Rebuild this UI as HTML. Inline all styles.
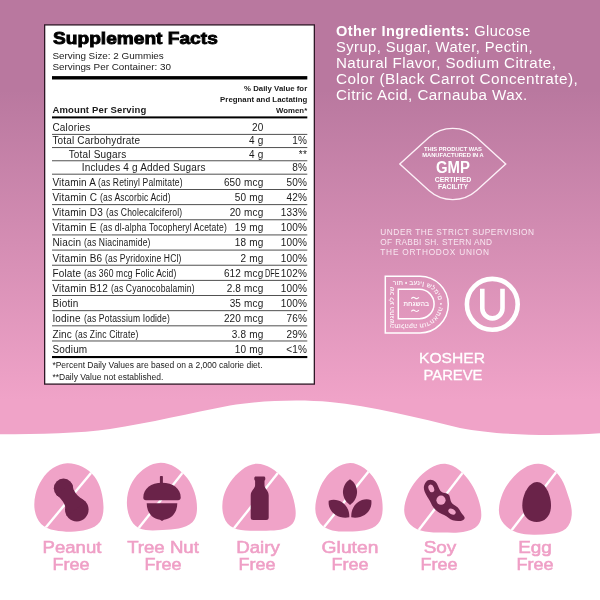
<!DOCTYPE html>
<html>
<head>
<meta charset="utf-8">
<title>Supplement Facts</title>
<style>
html,body{margin:0;padding:0;}
body{width:600px;height:600px;overflow:hidden;position:relative;background:#fff;font-family:"Liberation Sans",sans-serif;}
#bg{position:absolute;left:0;top:0;width:600px;height:445px;background:linear-gradient(to bottom,#b9789f 0px,#b9789f 90px,#f0a3c8 400px,#f0a3c8 445px);}
#wave{position:absolute;left:0;top:0;width:600px;height:600px;}
.t{position:absolute;white-space:nowrap;color:#1a1a1a;}
.c{display:inline-block;transform:scaleX(0.855);transform-origin:left center;}
.w{color:#fff;}
.w2{color:#f8e6f0;}
.lab{color:#ef9fc6;font-weight:normal;-webkit-text-stroke:0.55px #ef9fc6;}
</style>
</head>
<body>
<div id="root" style="position:absolute;left:0;top:0;width:600px;height:600px;will-change:transform;">
<div id="bg"></div>
<svg id="wave" viewBox="0 0 600 600">
<path d="M0,434.3 C40,434 80,433.5 110,429 C150,423 190,413 230,405.5 C260,400.5 300,399 330,402 C370,406 420,418 460,428 C500,436 560,436 600,433.3 L600,600 L0,600 Z" fill="#ffffff"/>
</svg>

<svg style="position:absolute;left:0;top:0" width="600" height="400" viewBox="0 0 600 400"><rect x="44.65" y="24.9" width="269.7" height="359.2" fill="#fff" stroke="#2e1726" stroke-width="1.3"/></svg>
<div class="t" style="left:52.6px;top:29.3px;font-size:16.3px;font-weight:bold;line-height:18.7px;color:#000;-webkit-text-stroke:0.85px #000;transform:scaleX(1.175);transform-origin:left top;">Supplement Facts</div>
<div class="t " style="left:52.4px;top:49.75px;font-size:9.9px;line-height:12px;letter-spacing:0px;">Serving Size: 2 Gummies</div>
<div class="t " style="left:52.4px;top:60.75px;font-size:9.9px;line-height:12px;letter-spacing:0px;">Servings Per Container: 30</div>
<div class="t " style="right:292.8px;top:83.75px;font-size:7.8px;line-height:10px;letter-spacing:0.02px;font-weight:bold;">% Daily Value for</div>
<div class="t " style="right:292.8px;top:94.75px;font-size:7.8px;line-height:10px;letter-spacing:0.02px;font-weight:bold;">Pregnant and Lactating</div>
<div class="t " style="right:292.8px;top:105.75px;font-size:7.8px;line-height:10px;letter-spacing:0.02px;font-weight:bold;">Women*</div>
<div class="t " style="left:52.4px;top:103.75px;font-size:9.5px;line-height:12px;letter-spacing:0.15px;font-weight:bold;">Amount Per Serving</div>
<div class="t " style="left:52.4px;top:359.75px;font-size:8.5px;line-height:11px;letter-spacing:0px;">*Percent Daily Values are based on a 2,000 calorie diet.</div>
<div class="t " style="left:52.4px;top:371.75px;font-size:8.5px;line-height:11px;letter-spacing:0px;">**Daily Value not established.</div>
<div class="t w" style="left:336.3px;top:22.75px;font-size:14px;line-height:17px;letter-spacing:0.4px;transform:scaleX(1.041);transform-origin:left center;"><b>Other Ingredients:</b> Glucose</div>
<div class="t w" style="left:336.3px;top:38.75px;font-size:14px;line-height:17px;letter-spacing:0.4px;transform:scaleX(1.056);transform-origin:left center;">Syrup, Sugar, Water, Pectin,</div>
<div class="t w" style="left:336.3px;top:54.75px;font-size:14px;line-height:17px;letter-spacing:0.4px;transform:scaleX(1.081);transform-origin:left center;">Natural Flavor, Sodium Citrate,</div>
<div class="t w" style="left:336.3px;top:70.75px;font-size:14px;line-height:17px;letter-spacing:0.4px;transform:scaleX(1.096);transform-origin:left center;">Color (Black Carrot Concentrate),</div>
<div class="t w" style="left:336.3px;top:86.75px;font-size:14px;line-height:17px;letter-spacing:0.4px;transform:scaleX(1.082);transform-origin:left center;">Citric Acid, Carnauba Wax.</div>
<div class="t w" style="left:453.00px;top:145.75px;font-size:5.6px;line-height:7px;letter-spacing:0px;transform:translateX(-50%) scaleX(1.03);font-weight:bold;">THIS PRODUCT WAS</div>
<div class="t w" style="left:453.20px;top:151.75px;font-size:5.6px;line-height:7px;letter-spacing:0px;transform:translateX(-50%) scaleX(1.03);font-weight:bold;">MANUFACTURED IN A</div>
<div class="t w" style="left:453.00px;top:158.75px;font-size:16px;line-height:18px;letter-spacing:0px;transform:translateX(-50%) scaleX(0.93);font-weight:bold;">GMP</div>
<div class="t w" style="left:452.70px;top:175.75px;font-size:7px;line-height:8px;letter-spacing:0px;transform:translateX(-50%) scaleX(0.99);font-weight:bold;">CERTIFIED</div>
<div class="t w" style="left:453.00px;top:182.75px;font-size:7px;line-height:8px;letter-spacing:0px;transform:translateX(-50%) scaleX(0.965);font-weight:bold;">FACILITY</div>
<div class="t w2" style="left:380.3px;top:226.75px;font-size:8.3px;line-height:11px;letter-spacing:0.54px;">UNDER THE STRICT SUPERVISION</div>
<div class="t w2" style="left:380.3px;top:236.75px;font-size:8.3px;line-height:11px;letter-spacing:0.34px;">OF RABBI SH. STERN AND</div>
<div class="t w2" style="left:380.3px;top:246.75px;font-size:8.3px;line-height:11px;letter-spacing:0.76px;">THE ORTHODOX UNION</div>
<div class="t w" style="left:452.30px;top:349.75px;font-size:14.4px;line-height:17px;letter-spacing:0px;transform:translateX(-50%) scaleX(1.085);-webkit-text-stroke:0.3px #fff;">KOSHER</div>
<div class="t w" style="left:452.80px;top:366.75px;font-size:14.4px;line-height:17px;letter-spacing:0px;transform:translateX(-50%) scaleX(1.03);-webkit-text-stroke:0.3px #fff;">PAREVE</div>
<div class="t lab" style="left:71.90px;top:537.75px;font-size:16.2px;line-height:19px;letter-spacing:0px;transform:translateX(-50%) scaleX(1.147);">Peanut</div>
<div class="t lab" style="left:71.00px;top:554.75px;font-size:16.2px;line-height:19px;letter-spacing:0px;transform:translateX(-50%) scaleX(1.113);">Free</div>
<div class="t lab" style="left:163.30px;top:537.75px;font-size:16.2px;line-height:19px;letter-spacing:0px;transform:translateX(-50%) scaleX(1.15);">Tree Nut</div>
<div class="t lab" style="left:163.30px;top:554.75px;font-size:16.2px;line-height:19px;letter-spacing:0px;transform:translateX(-50%) scaleX(1.113);">Free</div>
<div class="t lab" style="left:257.80px;top:537.75px;font-size:16.2px;line-height:19px;letter-spacing:0px;transform:translateX(-50%) scaleX(1.155);">Dairy</div>
<div class="t lab" style="left:256.60px;top:554.75px;font-size:16.2px;line-height:19px;letter-spacing:0px;transform:translateX(-50%) scaleX(1.113);">Free</div>
<div class="t lab" style="left:350.00px;top:537.75px;font-size:16.2px;line-height:19px;letter-spacing:0px;transform:translateX(-50%) scaleX(1.19);">Gluten</div>
<div class="t lab" style="left:349.80px;top:554.75px;font-size:16.2px;line-height:19px;letter-spacing:0px;transform:translateX(-50%) scaleX(1.113);">Free</div>
<div class="t lab" style="left:440.40px;top:537.75px;font-size:16.2px;line-height:19px;letter-spacing:0px;transform:translateX(-50%) scaleX(1.17);">Soy</div>
<div class="t lab" style="left:439.40px;top:554.75px;font-size:16.2px;line-height:19px;letter-spacing:0px;transform:translateX(-50%) scaleX(1.113);">Free</div>
<div class="t lab" style="left:535.00px;top:537.75px;font-size:16.2px;line-height:19px;letter-spacing:0px;transform:translateX(-50%) scaleX(1.17);">Egg</div>
<div class="t lab" style="left:535.00px;top:554.75px;font-size:16.2px;line-height:19px;letter-spacing:0px;transform:translateX(-50%) scaleX(1.113);">Free</div>
<div class="t " style="left:52.4px;top:121.75px;font-size:10.0px;line-height:12px;letter-spacing:0.18px;">Calories</div>
<div class="t " style="right:336.5px;top:121.75px;font-size:10.0px;line-height:12px;letter-spacing:0.18px;">20</div>
<div class="t " style="left:52.4px;top:134.75px;font-size:10.0px;line-height:12px;letter-spacing:0.18px;">Total Carbohydrate</div>
<div class="t " style="right:336.5px;top:134.75px;font-size:10.0px;line-height:12px;letter-spacing:0.18px;">4 g</div>
<div class="t " style="right:293px;top:134.75px;font-size:10.0px;line-height:12px;letter-spacing:0.18px;">1%</div>
<div class="t " style="left:68.7px;top:148.75px;font-size:10.0px;line-height:12px;letter-spacing:0.18px;">Total Sugars</div>
<div class="t " style="right:336.5px;top:148.75px;font-size:10.0px;line-height:12px;letter-spacing:0.18px;">4 g</div>
<div class="t " style="right:293px;top:148.75px;font-size:10.0px;line-height:12px;letter-spacing:0.18px;">**</div>
<div class="t " style="left:81.7px;top:161.75px;font-size:10.0px;line-height:12px;letter-spacing:0.18px;">Includes 4 g Added Sugars</div>
<div class="t " style="right:293px;top:161.75px;font-size:10.0px;line-height:12px;letter-spacing:0.18px;">8%</div>
<div class="t " style="left:52.4px;top:176.75px;font-size:10.0px;line-height:12px;letter-spacing:0.18px;">Vitamin A <span class="c">(as Retinyl Palmitate)</span></div>
<div class="t " style="right:336.5px;top:176.75px;font-size:10.0px;line-height:12px;letter-spacing:0.18px;">650 mcg</div>
<div class="t " style="right:293px;top:176.75px;font-size:10.0px;line-height:12px;letter-spacing:0.18px;">50%</div>
<div class="t " style="left:52.4px;top:191.75px;font-size:10.0px;line-height:12px;letter-spacing:0.18px;">Vitamin C <span class="c">(as Ascorbic Acid)</span></div>
<div class="t " style="right:336.5px;top:191.75px;font-size:10.0px;line-height:12px;letter-spacing:0.18px;">50 mg</div>
<div class="t " style="right:293px;top:191.75px;font-size:10.0px;line-height:12px;letter-spacing:0.18px;">42%</div>
<div class="t " style="left:52.4px;top:206.75px;font-size:10.0px;line-height:12px;letter-spacing:0.18px;">Vitamin D3 <span class="c">(as Cholecalciferol)</span></div>
<div class="t " style="right:336.5px;top:206.75px;font-size:10.0px;line-height:12px;letter-spacing:0.18px;">20 mcg</div>
<div class="t " style="right:293px;top:206.75px;font-size:10.0px;line-height:12px;letter-spacing:0.18px;">133%</div>
<div class="t " style="left:52.4px;top:221.75px;font-size:10.0px;line-height:12px;letter-spacing:0.18px;">Vitamin E <span class="c">(as dl-alpha Tocopheryl Acetate)</span></div>
<div class="t " style="right:336.5px;top:221.75px;font-size:10.0px;line-height:12px;letter-spacing:0.18px;">19 mg</div>
<div class="t " style="right:293px;top:221.75px;font-size:10.0px;line-height:12px;letter-spacing:0.18px;">100%</div>
<div class="t " style="left:52.4px;top:236.75px;font-size:10.0px;line-height:12px;letter-spacing:0.18px;">Niacin <span class="c">(as Niacinamide)</span></div>
<div class="t " style="right:336.5px;top:236.75px;font-size:10.0px;line-height:12px;letter-spacing:0.18px;">18 mg</div>
<div class="t " style="right:293px;top:236.75px;font-size:10.0px;line-height:12px;letter-spacing:0.18px;">100%</div>
<div class="t " style="left:52.4px;top:252.75px;font-size:10.0px;line-height:12px;letter-spacing:0.18px;">Vitamin B6 <span class="c">(as Pyridoxine HCl)</span></div>
<div class="t " style="right:336.5px;top:252.75px;font-size:10.0px;line-height:12px;letter-spacing:0.18px;">2 mg</div>
<div class="t " style="right:293px;top:252.75px;font-size:10.0px;line-height:12px;letter-spacing:0.18px;">100%</div>
<div class="t " style="left:52.4px;top:267.75px;font-size:10.0px;line-height:12px;letter-spacing:0.18px;">Folate <span class="c">(as 360 mcg Folic Acid)</span></div>
<div class="t " style="right:336.5px;top:267.75px;font-size:10.0px;line-height:12px;letter-spacing:0.18px;">612 mcg</div>
<div class="t " style="left:265.4px;top:267.75px;font-size:10.2px;line-height:12px;letter-spacing:0px;"><span class="c" style="transform:scaleX(0.72)">DFE</span></div>
<div class="t " style="right:293px;top:267.75px;font-size:10.0px;line-height:12px;letter-spacing:0.18px;">102%</div>
<div class="t " style="left:52.4px;top:282.75px;font-size:10.0px;line-height:12px;letter-spacing:0.18px;">Vitamin B12 <span class="c">(as Cyanocobalamin)</span></div>
<div class="t " style="right:336.5px;top:282.75px;font-size:10.0px;line-height:12px;letter-spacing:0.18px;">2.8 mcg</div>
<div class="t " style="right:293px;top:282.75px;font-size:10.0px;line-height:12px;letter-spacing:0.18px;">100%</div>
<div class="t " style="left:52.4px;top:297.75px;font-size:10.0px;line-height:12px;letter-spacing:0.18px;">Biotin</div>
<div class="t " style="right:336.5px;top:297.75px;font-size:10.0px;line-height:12px;letter-spacing:0.18px;">35 mcg</div>
<div class="t " style="right:293px;top:297.75px;font-size:10.0px;line-height:12px;letter-spacing:0.18px;">100%</div>
<div class="t " style="left:52.4px;top:312.75px;font-size:10.0px;line-height:12px;letter-spacing:0.18px;">Iodine <span class="c">(as Potassium Iodide)</span></div>
<div class="t " style="right:336.5px;top:312.75px;font-size:10.0px;line-height:12px;letter-spacing:0.18px;">220 mcg</div>
<div class="t " style="right:293px;top:312.75px;font-size:10.0px;line-height:12px;letter-spacing:0.18px;">76%</div>
<div class="t " style="left:52.4px;top:328.75px;font-size:10.0px;line-height:12px;letter-spacing:0.18px;">Zinc <span class="c">(as Zinc Citrate)</span></div>
<div class="t " style="right:336.5px;top:328.75px;font-size:10.0px;line-height:12px;letter-spacing:0.18px;">3.8 mg</div>
<div class="t " style="right:293px;top:328.75px;font-size:10.0px;line-height:12px;letter-spacing:0.18px;">29%</div>
<div class="t " style="left:52.4px;top:343.75px;font-size:10.0px;line-height:12px;letter-spacing:0.18px;">Sodium</div>
<div class="t " style="right:336.5px;top:343.75px;font-size:10.0px;line-height:12px;letter-spacing:0.18px;">10 mg</div>
<div class="t " style="right:293px;top:343.75px;font-size:10.0px;line-height:12px;letter-spacing:0.18px;">&lt;1%</div>
<svg style="position:absolute;left:0;top:0" width="600" height="400" viewBox="0 0 600 400"><rect x="52" y="133.90" width="255.3" height="0.95" fill="#484848"/><rect x="52" y="147.10" width="255.3" height="0.95" fill="#484848"/><rect x="52" y="160.30" width="255.3" height="0.95" fill="#484848"/><rect x="52" y="173.70" width="255.3" height="0.95" fill="#484848"/><rect x="52" y="189.00" width="255.3" height="0.95" fill="#484848"/><rect x="52" y="204.15" width="255.3" height="0.95" fill="#484848"/><rect x="52" y="219.30" width="255.3" height="0.95" fill="#484848"/><rect x="52" y="234.45" width="255.3" height="0.95" fill="#484848"/><rect x="52" y="249.60" width="255.3" height="0.95" fill="#484848"/><rect x="52" y="264.75" width="255.3" height="0.95" fill="#484848"/><rect x="52" y="279.90" width="255.3" height="0.95" fill="#484848"/><rect x="52" y="295.05" width="255.3" height="0.95" fill="#484848"/><rect x="52" y="310.20" width="255.3" height="0.95" fill="#484848"/><rect x="52" y="325.35" width="255.3" height="0.95" fill="#484848"/><rect x="52" y="340.50" width="255.3" height="0.95" fill="#484848"/><rect x="52" y="76.1" width="255.3" height="3.4" fill="#000"/><rect x="52" y="116.4" width="255.3" height="2.0" fill="#000"/><rect x="52" y="356" width="255.3" height="2.1" fill="#000"/></svg>

<!-- right column -->
<svg id="art" style="position:absolute;left:0;top:0" width="600" height="600" viewBox="0 0 600 600">
<!-- GMP badge -->
<path d="M399.8,164 L428.9,137.5 A35.8,35.8 0 0 1 476.6,137.5 L505.7,164 L476.6,190.5 A35.8,35.8 0 0 1 428.9,190.5 Z" fill="none" stroke="#fdf0f7" stroke-width="1.4" stroke-linejoin="miter"/>
<!-- Kosher D -->
<g fill="none" stroke="#ffffff" stroke-width="1.5">
<path d="M385.3,276.3 H420 A28.3,28.3 0 0 1 420,332.9 H385.3 Z"/>
<path d="M398.3,289.3 H419.4 A14.7,14.7 0 0 1 419.4,318.7 H398.3 Z"/>
</g>
<path id="dband" d="M394,329 V285.3 H419.7 A19.2,19.2 0 0 1 419.7,323.7 H396" fill="none"/>
<text font-family="Liberation Sans, sans-serif" font-size="6.3" font-weight="bold" fill="#ffffff" fill-opacity="0.85" letter-spacing="0.1" style="unicode-bidi:bidi-override;direction:ltr"><textPath href="#dband" startOffset="1">&#x5D4;&#x5E9;&#x5D2;&#x5D7;&#x5D4; &#x5E2;&#x5DC; &#x5DB;&#x5E9;&#x5E8;&#x5D5;&#x5EA; &#x2022; &#x5D1;&#x5E2;&#x5E0;&#x5D9;&#x5DF; &#x5E9;&#x5DC;&#x5DE;&#x5D9;&#x5DD; &#x2022; &#x5D4;&#x5EA;&#x5D0;&#x5D7;&#x5D3;&#x5D5;&#x5EA; &#x5D4;&#x5E7;&#x5D4;&#x5DC;&#x5D5;&#x5EA; &#x2022; &#x5D3;&#x5D0;&#x5E8;&#x5E6;&#x5D5;&#x5EA; &#x5D4;&#x5D1;&#x5E8;&#x5D9;&#x5EA;</textPath></text>
<text x="416.3" y="306.2" text-anchor="middle" font-family="Liberation Sans, sans-serif" font-size="6.4" font-weight="bold" fill="#ffffff" fill-opacity="0.95">&#x5D1;&#x5D4;&#x5E9;&#x5D2;&#x5D7;&#x5EA;</text>
<path d="M411.3,298.6 q1.9,-2.2 3.8,-0.6 t3.8,-0.6 M411.3,311.4 q1.9,-2.2 3.8,-0.6 t3.8,-0.6" fill="none" stroke="#fff" stroke-width="1.1" stroke-opacity="0.95"/>
<!-- OU -->
<circle cx="492.3" cy="304.3" r="25.4" fill="none" stroke="#ffffff" stroke-width="4.6"/>
<path d="M482.3,288.7 V308.3 A10.1,10.1 0 0 0 502.5,308.3 V288.7" fill="none" stroke="#ffffff" stroke-width="4.6"/>
<defs><clipPath id="cp_peanut"><path d="M67.1,463.2 C72.1,463.0 77.5,464.3 82.3,466.8 C87.2,469.2 91.4,472.7 94.6,476.8 C97.7,481.0 99.8,485.8 101.2,490.9 C102.6,496.1 103.4,501.8 103.5,507.3 C103.5,512.8 102.6,518.1 99.9,522.0 C97.2,525.8 92.4,528.2 87.2,529.6 C82.0,531.1 76.5,531.7 71.1,531.7 C65.6,531.8 60.1,531.2 54.8,530.2 C49.4,529.2 44.5,527.4 41.1,523.9 C37.7,520.4 35.7,515.7 34.8,510.5 C33.9,505.4 34.2,499.8 35.5,494.5 C36.7,489.1 39.0,484.0 42.0,479.4 C45.0,474.8 48.7,470.9 53.0,468.0 C57.3,465.2 62.0,463.4 67.1,463.2Z"/></clipPath><clipPath id="cp_tree"><path d="M160.7,462.7 C165.7,462.7 170.7,464.4 175.3,467.2 C179.8,470.0 183.9,473.8 187.2,478.1 C190.4,482.4 192.9,487.2 194.5,492.2 C196.1,497.2 197.0,502.5 197.0,507.9 C197.0,513.3 196.0,518.6 192.4,522.2 C188.7,525.7 183.8,527.5 178.8,528.4 C173.7,529.3 168.1,529.6 162.4,530.1 C156.7,530.5 150.9,530.9 145.8,530.1 C140.7,529.3 136.3,527.2 133.2,523.4 C130.2,519.6 128.2,514.4 127.4,509.0 C126.5,503.5 126.8,498.0 128.0,492.8 C129.3,487.6 131.5,482.7 134.5,478.4 C137.6,474.1 141.6,470.2 146.1,467.4 C150.7,464.6 155.7,462.8 160.7,462.7Z"/></clipPath><clipPath id="cp_dairy"><path d="M256.0,463.7 C261.0,463.4 266.2,465.1 271.0,467.9 C275.8,470.7 280.1,474.6 283.5,478.8 C286.8,483.0 289.3,487.5 291.3,492.6 C293.2,497.6 294.7,503.1 295.4,508.8 C296.1,514.4 295.7,519.8 292.7,523.5 C289.6,527.3 283.7,529.2 278.1,530.1 C272.5,530.9 267.8,530.7 262.5,530.8 C257.2,530.8 251.1,531.0 245.3,530.5 C239.5,530.0 234.1,528.8 230.2,525.9 C226.3,523.0 223.9,518.2 222.9,512.9 C221.9,507.5 222.2,501.8 223.5,496.5 C224.9,491.3 227.2,486.4 230.3,481.9 C233.5,477.4 237.3,473.3 241.7,469.9 C246.1,466.5 250.9,464.1 256.0,463.7Z"/></clipPath><clipPath id="cp_gluten"><path d="M350.1,463.1 C355.0,463.1 359.8,465.1 364.1,468.1 C368.3,471.1 372.0,475.2 374.8,479.6 C377.6,484.1 379.6,488.9 380.9,494.1 C382.2,499.2 382.8,504.6 382.6,509.9 C382.4,515.2 381.1,520.2 378.0,523.7 C374.8,527.3 370.1,529.2 365.0,530.2 C359.9,531.1 354.2,531.3 348.5,531.5 C342.9,531.6 337.3,531.5 332.3,530.4 C327.4,529.2 323.1,527.0 320.1,523.2 C317.1,519.4 315.4,514.2 315.3,509.0 C315.2,503.7 316.4,498.3 318.0,493.3 C319.5,488.3 321.6,483.5 324.6,479.2 C327.5,475.0 331.2,471.1 335.7,468.1 C340.2,465.1 345.2,463.2 350.1,463.1Z"/></clipPath><clipPath id="cp_soy"><path d="M445.1,463.7 C450.2,464.0 455.1,466.6 459.5,470.2 C463.9,473.8 467.7,478.2 470.7,482.9 C473.8,487.5 476.1,492.5 477.9,497.8 C479.7,503.2 481.3,509.1 481.3,514.6 C481.4,520.1 479.6,524.8 475.1,527.8 C470.7,530.7 464.3,532.1 458.7,532.6 C453.1,533.0 447.9,532.6 442.1,532.6 C436.4,532.6 430.4,532.6 424.9,531.6 C419.4,530.6 414.3,528.6 410.5,524.8 C406.7,521.0 404.2,515.7 404.2,510.1 C404.2,504.6 405.9,499.0 408.0,493.9 C410.2,488.9 413.1,484.2 416.7,479.9 C420.3,475.6 424.8,471.6 429.7,468.5 C434.6,465.4 439.9,463.5 445.1,463.7Z"/></clipPath><clipPath id="cp_egg"><path d="M538.9,463.8 C544.1,464.1 549.3,466.4 553.6,469.9 C558.0,473.3 561.2,477.9 563.4,482.8 C565.7,487.8 567.3,493.1 569.1,498.4 C570.9,503.7 572.1,509.4 571.7,515.0 C571.3,520.5 569.4,525.6 565.8,528.7 C562.1,531.9 556.8,533.2 551.0,533.8 C545.3,534.5 539.3,534.9 533.5,534.8 C527.7,534.7 522.2,534.1 517.1,532.5 C512.1,530.9 507.4,528.1 504.0,524.1 C500.5,520.1 498.7,515.0 498.9,509.5 C499.1,504.0 500.5,498.6 502.6,493.5 C504.7,488.4 507.7,483.7 511.3,479.4 C514.9,475.1 519.2,471.1 523.9,468.2 C528.7,465.3 533.8,463.5 538.9,463.8Z"/></clipPath></defs>
<path d="M67.1,463.2 C72.1,463.0 77.5,464.3 82.3,466.8 C87.2,469.2 91.4,472.7 94.6,476.8 C97.7,481.0 99.8,485.8 101.2,490.9 C102.6,496.1 103.4,501.8 103.5,507.3 C103.5,512.8 102.6,518.1 99.9,522.0 C97.2,525.8 92.4,528.2 87.2,529.6 C82.0,531.1 76.5,531.7 71.1,531.7 C65.6,531.8 60.1,531.2 54.8,530.2 C49.4,529.2 44.5,527.4 41.1,523.9 C37.7,520.4 35.7,515.7 34.8,510.5 C33.9,505.4 34.2,499.8 35.5,494.5 C36.7,489.1 39.0,484.0 42.0,479.4 C45.0,474.8 48.7,470.9 53.0,468.0 C57.3,465.2 62.0,463.4 67.1,463.2Z" fill="#f0a3c8"/>
<line clip-path="url(#cp_peanut)" x1="100.5" y1="461.6" x2="36.1" y2="539.1" stroke="#fff" stroke-width="2.4"/>
<path d="M160.7,462.7 C165.7,462.7 170.7,464.4 175.3,467.2 C179.8,470.0 183.9,473.8 187.2,478.1 C190.4,482.4 192.9,487.2 194.5,492.2 C196.1,497.2 197.0,502.5 197.0,507.9 C197.0,513.3 196.0,518.6 192.4,522.2 C188.7,525.7 183.8,527.5 178.8,528.4 C173.7,529.3 168.1,529.6 162.4,530.1 C156.7,530.5 150.9,530.9 145.8,530.1 C140.7,529.3 136.3,527.2 133.2,523.4 C130.2,519.6 128.2,514.4 127.4,509.0 C126.5,503.5 126.8,498.0 128.0,492.8 C129.3,487.6 131.5,482.7 134.5,478.4 C137.6,474.1 141.6,470.2 146.1,467.4 C150.7,464.6 155.7,462.8 160.7,462.7Z" fill="#f0a3c8"/>
<line clip-path="url(#cp_tree)" x1="191.5" y1="461.6" x2="129.9" y2="539.1" stroke="#fff" stroke-width="2.4"/>
<path d="M256.0,463.7 C261.0,463.4 266.2,465.1 271.0,467.9 C275.8,470.7 280.1,474.6 283.5,478.8 C286.8,483.0 289.3,487.5 291.3,492.6 C293.2,497.6 294.7,503.1 295.4,508.8 C296.1,514.4 295.7,519.8 292.7,523.5 C289.6,527.3 283.7,529.2 278.1,530.1 C272.5,530.9 267.8,530.7 262.5,530.8 C257.2,530.8 251.1,531.0 245.3,530.5 C239.5,530.0 234.1,528.8 230.2,525.9 C226.3,523.0 223.9,518.2 222.9,512.9 C221.9,507.5 222.2,501.8 223.5,496.5 C224.9,491.3 227.2,486.4 230.3,481.9 C233.5,477.4 237.3,473.3 241.7,469.9 C246.1,466.5 250.9,464.1 256.0,463.7Z" fill="#f0a3c8"/>
<line clip-path="url(#cp_dairy)" x1="287.5" y1="460.9" x2="225.9" y2="538.4" stroke="#fff" stroke-width="2.4"/>
<path d="M350.1,463.1 C355.0,463.1 359.8,465.1 364.1,468.1 C368.3,471.1 372.0,475.2 374.8,479.6 C377.6,484.1 379.6,488.9 380.9,494.1 C382.2,499.2 382.8,504.6 382.6,509.9 C382.4,515.2 381.1,520.2 378.0,523.7 C374.8,527.3 370.1,529.2 365.0,530.2 C359.9,531.1 354.2,531.3 348.5,531.5 C342.9,531.6 337.3,531.5 332.3,530.4 C327.4,529.2 323.1,527.0 320.1,523.2 C317.1,519.4 315.4,514.2 315.3,509.0 C315.2,503.7 316.4,498.3 318.0,493.3 C319.5,488.3 321.6,483.5 324.6,479.2 C327.5,475.0 331.2,471.1 335.7,468.1 C340.2,465.1 345.2,463.2 350.1,463.1Z" fill="#f0a3c8"/>
<line clip-path="url(#cp_gluten)" x1="377.8" y1="460.0" x2="314.2" y2="539.3" stroke="#fff" stroke-width="2.4"/>
<path d="M445.1,463.7 C450.2,464.0 455.1,466.6 459.5,470.2 C463.9,473.8 467.7,478.2 470.7,482.9 C473.8,487.5 476.1,492.5 477.9,497.8 C479.7,503.2 481.3,509.1 481.3,514.6 C481.4,520.1 479.6,524.8 475.1,527.8 C470.7,530.7 464.3,532.1 458.7,532.6 C453.1,533.0 447.9,532.6 442.1,532.6 C436.4,532.6 430.4,532.6 424.9,531.6 C419.4,530.6 414.3,528.6 410.5,524.8 C406.7,521.0 404.2,515.7 404.2,510.1 C404.2,504.6 405.9,499.0 408.0,493.9 C410.2,488.9 413.1,484.2 416.7,479.9 C420.3,475.6 424.8,471.6 429.7,468.5 C434.6,465.4 439.9,463.5 445.1,463.7Z" fill="#f0a3c8"/>
<line clip-path="url(#cp_soy)" x1="470.8" y1="462.2" x2="411.2" y2="539.8" stroke="#fff" stroke-width="2.4"/>
<path d="M538.9,463.8 C544.1,464.1 549.3,466.4 553.6,469.9 C558.0,473.3 561.2,477.9 563.4,482.8 C565.7,487.8 567.3,493.1 569.1,498.4 C570.9,503.7 572.1,509.4 571.7,515.0 C571.3,520.5 569.4,525.6 565.8,528.7 C562.1,531.9 556.8,533.2 551.0,533.8 C545.3,534.5 539.3,534.9 533.5,534.8 C527.7,534.7 522.2,534.1 517.1,532.5 C512.1,530.9 507.4,528.1 504.0,524.1 C500.5,520.1 498.7,515.0 498.9,509.5 C499.1,504.0 500.5,498.6 502.6,493.5 C504.7,488.4 507.7,483.7 511.3,479.4 C514.9,475.1 519.2,471.1 523.9,468.2 C528.7,465.3 533.8,463.5 538.9,463.8Z" fill="#f0a3c8"/>
<line clip-path="url(#cp_egg)" x1="565.1" y1="460.5" x2="503.5" y2="540.8" stroke="#fff" stroke-width="2.4"/>
<g fill="#6a2349"><circle cx="63.5" cy="488.3" r="9.7"/><circle cx="76.8" cy="509.6" r="11.8"/><path d="M56,494.5 L71.8,483.2 C72.5,490.5 77,496 85.8,502 L66.5,516 C67.5,508 63.5,500 56,494.5Z"/></g>
<g fill="#6a2349"><rect x="159.9" y="476" width="3" height="9" rx="0.8"/><path d="M143.3,497.5 C143.3,488.5 151,482.7 162,482.7 C173,482.7 180.7,488.5 180.7,497.5 C180.7,499.3 179.8,500.2 178,500.2 L146,500.2 C144.2,500.2 143.3,499.3 143.3,497.5Z"/><path d="M146.7,503.3 L177.3,503.3 C177.3,512.5 171.5,519 164,519.8 L162,521 L160,519.8 C152.5,519 146.7,512.5 146.7,503.3Z"/></g>
<g fill="#6a2349"><path d="M254.3,478.2 C254.3,477.2 254.9,476.6 255.9,476.6 L263.7,476.6 C264.7,476.6 265.3,477.2 265.3,478.2 L265.3,479.3 C265.3,480 264.9,480.3 264.5,480.7 L264.5,485.3 C264.5,488.8 268.7,490.5 268.7,495.5 L268.7,517.5 C268.7,519.2 267.8,520 266.2,520 L253.2,520 C251.6,520 250.7,519.2 250.7,517.5 L250.7,495.5 C250.7,490.5 255.1,488.8 255.1,485.3 L255.1,480.7 C254.7,480.3 254.3,480 254.3,479.3Z"/></g>
<g fill="#6a2349"><path d="M350,479.3 C359.4,485.5 359.4,498.5 350,504.9 C340.6,498.5 340.6,485.5 350,479.3Z"/><path d="M328.7,500.7 C339,497 350,505.5 349.3,517.3 C337.5,519.5 327.5,511.5 328.7,500.7Z"/><path d="M371.3,500.2 C361,496.5 350.4,505.5 351.3,517.3 C363.1,519.5 372.8,511.2 371.3,500.2Z"/></g>
<g><path d="M423.9,486.8 C424.1,485.1 424.9,483.3 426.0,482.0 C427.1,480.6 428.6,479.7 430.4,479.7 C432.2,479.7 434.2,480.5 435.4,481.7 C436.7,482.9 437.4,484.6 438.1,486.2 C438.7,487.8 439.3,489.4 440.3,490.7 C441.2,491.9 442.8,492.6 444.7,492.9 C446.6,493.2 448.4,493.8 449.2,495.3 C449.9,496.8 450.1,498.8 450.6,500.4 C451.1,502.1 452.1,503.3 453.5,504.4 C455.0,505.4 456.6,506.3 457.8,507.5 C459.0,508.6 459.6,510.2 460.6,511.8 C461.5,513.4 463.2,515.0 464.1,516.4 C465.1,517.8 464.8,519.1 463.3,519.9 C461.9,520.8 460.0,521.1 458.1,521.1 C456.2,521.0 454.4,520.8 452.7,520.3 C451.1,519.8 449.7,518.9 448.4,517.7 C447.1,516.6 445.7,515.6 444.1,514.9 C442.6,514.2 440.9,513.5 439.4,512.7 C437.9,511.8 436.5,510.7 435.2,509.5 C434.0,508.3 432.9,507.0 432.1,505.5 C431.4,504.1 430.7,502.5 429.9,501.0 C429.1,499.4 428.0,497.9 427.1,496.4 C426.1,494.8 425.3,493.3 424.7,491.7 C424.1,490.1 423.7,488.5 423.9,486.8Z" fill="#6a2349"/><ellipse cx="431.3" cy="488.4" rx="2.7" ry="4.0" transform="rotate(-22 431.3 488.4)" fill="#f0a3c8"/><circle cx="441" cy="500.2" r="4.6" fill="#f0a3c8"/><ellipse cx="452" cy="511.6" rx="3.9" ry="2.7" transform="rotate(28 452 511.6)" fill="#f0a3c8"/></g>
<path d="M537,482 C545,482 551,494.5 551,505.5 C551,516 545,522 536.7,522 C528.4,522 522.3,516 522.3,505.5 C522.3,494.5 529,482 537,482Z" fill="#6a2349"/>
</svg>

</div>
</body>
</html>
